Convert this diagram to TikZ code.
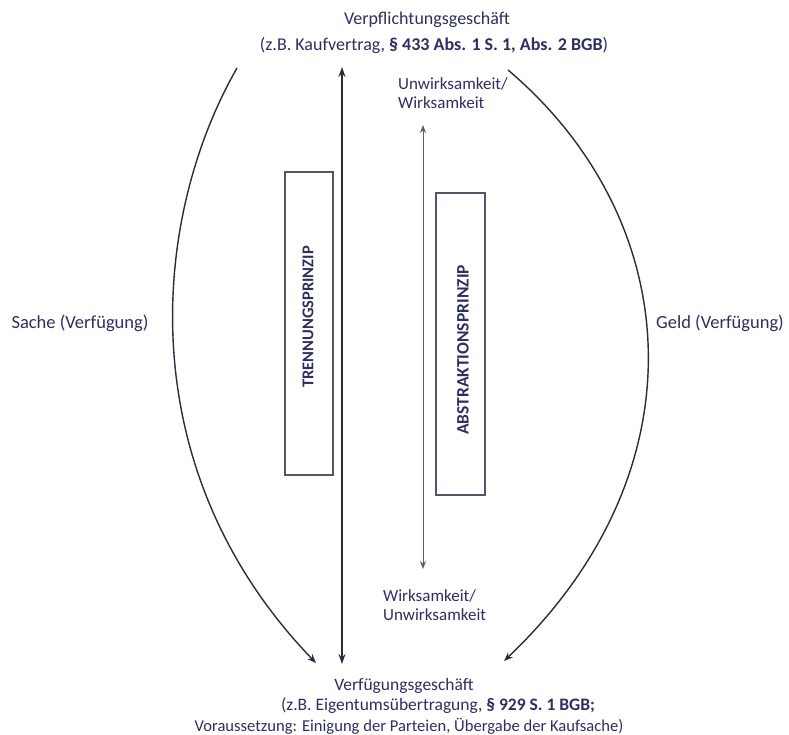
\documentclass[tikz,border=0pt]{standalone}
\usepackage{fontspec}
\setmainfont{Carlito}
\usetikzlibrary{arrows.meta}
\definecolor{ink}{HTML}{2E2E62}
\definecolor{wire}{HTML}{2A2A44}
\definecolor{boxline}{HTML}{55556A}
\begin{document}
\begin{tikzpicture}[x=1pt,y=-1pt,
  txt/.style={text=ink,font=\fontsize{18}{22}\selectfont,inner sep=0pt},
  bottxt/.style={text=ink,font=\fontsize{#1}{20}\selectfont,inner sep=0pt},
  side/.style={text=ink,font=\fontsize{18.5}{22}\selectfont,inner sep=0pt},
  valid/.style={text=ink,font=\fontsize{17}{19}\selectfont,inner sep=0pt,align=left,anchor=north west},
  prinzip/.style={draw=boxline,line width=1.3pt,inner sep=0pt},
  plabel/.style={text=ink,font=\fontsize{#1}{20}\selectfont\bfseries,rotate=90,inner sep=0pt},
  tip/.style={-{Stealth[length=9pt,width=7pt]}},
  curve/.style={draw=wire,line width=1.4pt,tip},
  mainarrow/.style={draw=wire,line width=1.6pt,{Stealth[length=10pt,width=7pt]}-{Stealth[length=10pt,width=7pt]}},
  thinarrow/.style={draw=ink!80,line width=1pt,{Stealth[length=8pt,width=6pt]}-{Stealth[length=8pt,width=6pt]}}]
\useasboundingbox (0,0) rectangle (789,735);

% headings
\node[txt] (top) at (427,20) {Verpflichtungsgeschäft};
\node[txt] (topref) at (434,45) {(z.B. Kaufvertrag, \textbf{§ 433 Abs. 1 S. 1, Abs. 2 BGB})};
\node[bottxt=17.5] (bot) at (404,686) {Verfügungsgeschäft};
\node[bottxt=17.5] (botref) at (438,706) {(z.B. Eigentumsübertragung, \textbf{§ 929 S. 1 BGB;}};
\node[bottxt=16.6] (botcond) at (409,726) {Voraussetzung: Einigung der Parteien, Übergabe der Kaufsache)};

% side labels
\node[side] (sache) at (80,323) {Sache (Verfügung)};
\node[side] (geld) at (720,323) {Geld (Verfügung)};

% validity labels
\node[valid] (unw) at (398,77) {Unwirksamkeit/\\Wirksamkeit};
\node[valid] (wirk) at (383,589) {Wirksamkeit/\\Unwirksamkeit};

% principle boxes
\node[prinzip,minimum width=48pt,minimum height=303pt] (trenn) at (309,323.5) {};
\node[plabel=16.5] (trennlbl) at (308,317) {TRENNUNGSPRINZIP};
\node[prinzip,minimum width=49pt,minimum height=302pt] (abstr) at (460.5,344) {};
\node[plabel=17.5] (abstrlbl) at (463,350) {ABSTRAKTIONSPRINZIP};

% connector end points
\coordinate (mtop) at (342,67);
\coordinate (mbot) at (342,664);
\coordinate (ttop) at (423,125);
\coordinate (tbot) at (423,569);
\coordinate (lstart) at (237,68);
\coordinate (lend) at (316,663);
\coordinate (rstart) at (508,70);
\coordinate (rend) at (504,661);

% arrows
\draw[mainarrow] (mtop) -- (mbot);
\draw[thinarrow] (ttop) -- (tbot);
\draw[curve] (lstart) .. controls (150,220) and (130,470) .. (lend);
\draw[curve] (rstart) .. controls (685,220) and (705,470) .. (rend);
\end{tikzpicture}
\end{document}
